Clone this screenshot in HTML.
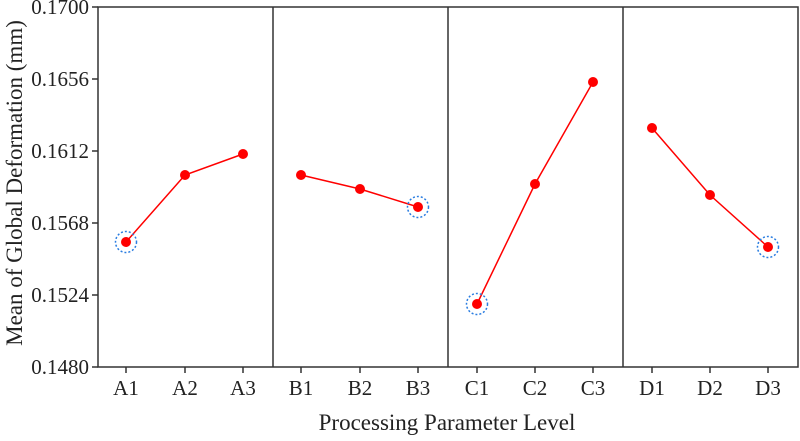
<!DOCTYPE html>
<html><head><style>body{margin:0;background:#fff}</style></head><body>
<svg width="800" height="436" xmlns="http://www.w3.org/2000/svg" font-family="Liberation Serif, serif" font-size="21" fill="#222">
<rect x="98" y="7" width="700" height="360" fill="none" stroke="#333" stroke-width="1.5"/>
<g stroke="#333" stroke-width="1.5">
<line x1="273" y1="7" x2="273" y2="367"/><line x1="448" y1="7" x2="448" y2="367"/><line x1="623" y1="7" x2="623" y2="367"/>
<line x1="92" y1="7" x2="98" y2="7"/><line x1="92" y1="79" x2="98" y2="79"/><line x1="92" y1="151" x2="98" y2="151"/><line x1="92" y1="223" x2="98" y2="223"/><line x1="92" y1="295" x2="98" y2="295"/><line x1="92" y1="367" x2="98" y2="367"/>
<line x1="126" y1="367" x2="126" y2="373"/><line x1="185" y1="367" x2="185" y2="373"/><line x1="243" y1="367" x2="243" y2="373"/>
<line x1="301" y1="367" x2="301" y2="373"/><line x1="360" y1="367" x2="360" y2="373"/><line x1="418" y1="367" x2="418" y2="373"/>
<line x1="477" y1="367" x2="477" y2="373"/><line x1="535" y1="367" x2="535" y2="373"/><line x1="593" y1="367" x2="593" y2="373"/>
<line x1="652" y1="367" x2="652" y2="373"/><line x1="710" y1="367" x2="710" y2="373"/><line x1="768" y1="367" x2="768" y2="373"/>
</g>
<g text-anchor="end">
<text x="89" y="14">0.1700</text><text x="89" y="86">0.1656</text><text x="89" y="158">0.1612</text><text x="89" y="230">0.1568</text><text x="89" y="302">0.1524</text><text x="89" y="374">0.1480</text>
</g>
<g text-anchor="middle">
<text x="126" y="395">A1</text><text x="185" y="395">A2</text><text x="243" y="395">A3</text>
<text x="301" y="395">B1</text><text x="360" y="395">B2</text><text x="418" y="395">B3</text>
<text x="477" y="395">C1</text><text x="535" y="395">C2</text><text x="593" y="395">C3</text>
<text x="652" y="395">D1</text><text x="710" y="395">D2</text><text x="768" y="395">D3</text>
<text x="447" y="430" font-size="23">Processing Parameter Level</text>
<text transform="translate(22,183) rotate(-90)" font-size="23">Mean of Global Deformation (mm)</text>
</g>
<g fill="none" stroke="#f00" stroke-width="1.5">
<polyline points="126,242 185,175 243,154"/><polyline points="301,175 360,189 418,207"/>
<polyline points="477,304 535,184 593,82"/><polyline points="652,128 710,195 768,247"/>
</g>
<g fill="#f00">
<circle cx="126" cy="242" r="5"/><circle cx="185" cy="175" r="5"/><circle cx="243" cy="154" r="5"/>
<circle cx="301" cy="175" r="5"/><circle cx="360" cy="189" r="5"/><circle cx="418" cy="207" r="5"/>
<circle cx="477" cy="304" r="5"/><circle cx="535" cy="184" r="5"/><circle cx="593" cy="82" r="5"/>
<circle cx="652" cy="128" r="5"/><circle cx="710" cy="195" r="5"/><circle cx="768" cy="247" r="5"/>
</g>
<g fill="none" stroke="#2a7de1" stroke-width="1.5" stroke-dasharray="2,2">
<circle cx="126" cy="242" r="10.5"/><circle cx="418" cy="207" r="10.5"/><circle cx="477" cy="304" r="10.5"/><circle cx="768" cy="247" r="10.5"/>
</g>
</svg>
</body></html>
